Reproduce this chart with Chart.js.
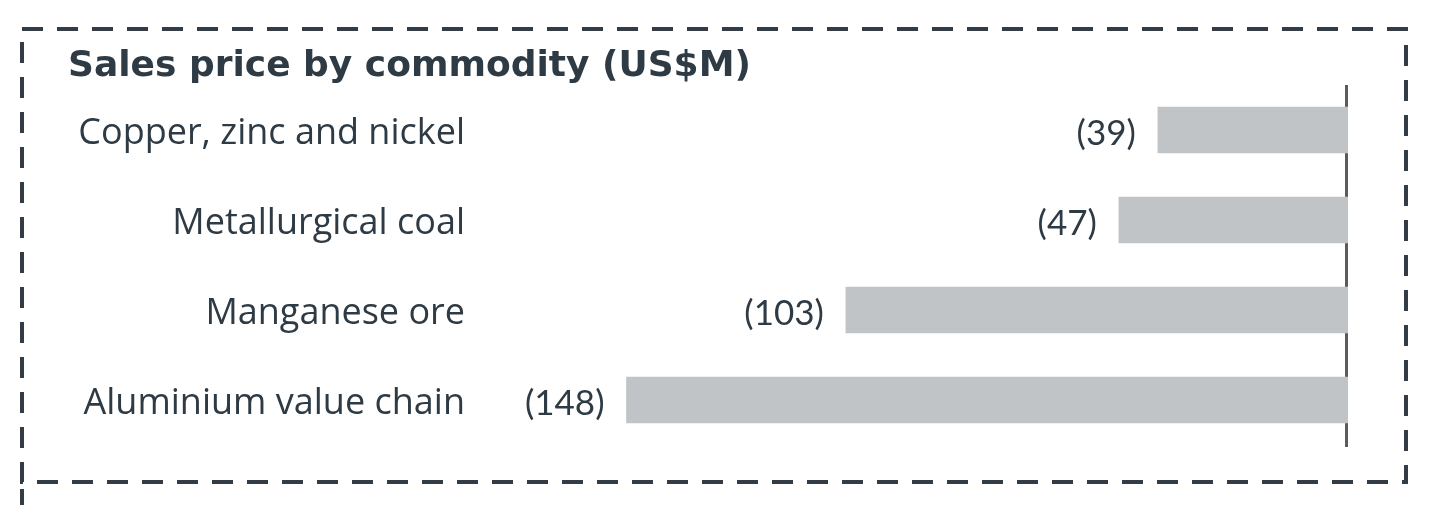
<!DOCTYPE html>
<html>
<head>
<meta charset="utf-8">
<script src="https://cdn.jsdelivr.net/npm/chart.js@4"></script>
<style>
  html, body { margin: 0; padding: 0; background: #fff; }
  #wrap { width: 1440px; height: 505px; position: relative; }
</style>
</head>
<body>
<div id="wrap"><canvas id="myChart" width="1440" height="505"></canvas></div>
<script>
var categories = ['Copper, zinc and nickel', 'Metallurgical coal', 'Manganese ore', 'Aluminium value chain'];
var priceImpact = [-39, -47, -103, -148];
var chartTitle = 'Sales price by commodity (US$M)';

var textColor = '#2e3a44';
var borderColor = '#333c44';

// dashed frame + title
var framePlugin = {
  id: 'frame',
  beforeDraw: function(chart) {
    var c = chart.ctx;
    c.save();
    c.strokeStyle = borderColor;
    c.lineWidth = 4;
    c.setLineDash([21, 14]);
    c.strokeRect(22, 29, 1384, 453);
    c.beginPath();
    c.moveTo(22, 489);
    c.lineTo(22, 510);
    c.stroke();
    c.setLineDash([]);
    c.fillStyle = textColor;
    c.font = 'bold 36px "DejaVu Sans", sans-serif';
    c.textBaseline = 'alphabetic';
    c.textAlign = 'left';
    c.fillText(chartTitle, 68, 76);
    c.restore();
  },
  beforeDatasetsDraw: function(chart) {
    var c = chart.ctx;
    var x = chart.scales.x.getPixelForValue(0) - 1.5;
    c.save();
    c.strokeStyle = '#5b5b5b';
    c.lineWidth = 3;
    c.beginPath();
    c.moveTo(x, chart.chartArea.top);
    c.lineTo(x, chart.chartArea.bottom + 2);
    c.stroke();
    c.restore();
  },
  afterDatasetsDraw: function(chart) {
    var c = chart.ctx;
    var meta = chart.getDatasetMeta(0);
    c.save();
    c.fillStyle = textColor;
    c.font = '35px Lato, sans-serif';
    c.textAlign = 'right';
    c.textBaseline = 'alphabetic';
    meta.data.forEach(function(bar, i) {
      c.fillText('(' + Math.abs(priceImpact[i]) + ')', bar.x - 22, bar.y + 15);
    });
    c.restore();
  }
};

var ctx = document.getElementById('myChart').getContext('2d');
var myChart = new Chart(ctx, {
  type: 'bar',
  data: {
    labels: categories,
    datasets: [{
      data: priceImpact,
      backgroundColor: '#c1c4c6',
      borderWidth: 0,
      barThickness: 46
    }]
  },
  options: {
    indexAxis: 'y',
    responsive: false,
    animation: false,
    layout: { padding: { left: 0, right: 92, top: 85, bottom: 60 } },
    plugins: {
      legend: { display: false },
      tooltip: { enabled: false },
      title: { display: false }
    },
    scales: {
      x: {
        display: false,
        min: -176,
        max: 0
      },
      y: {
        grid: { display: false, drawTicks: false },
        border: { display: false },
        afterFit: function(scale) { scale.width = 490; },
        ticks: {
          color: textColor,
          padding: 25,
          labelOffset: 4,
          font: { family: '"Open Sans", sans-serif', size: 36 }
        }
      }
    }
  },
  plugins: [framePlugin]
});
</script>
</body>
</html>
